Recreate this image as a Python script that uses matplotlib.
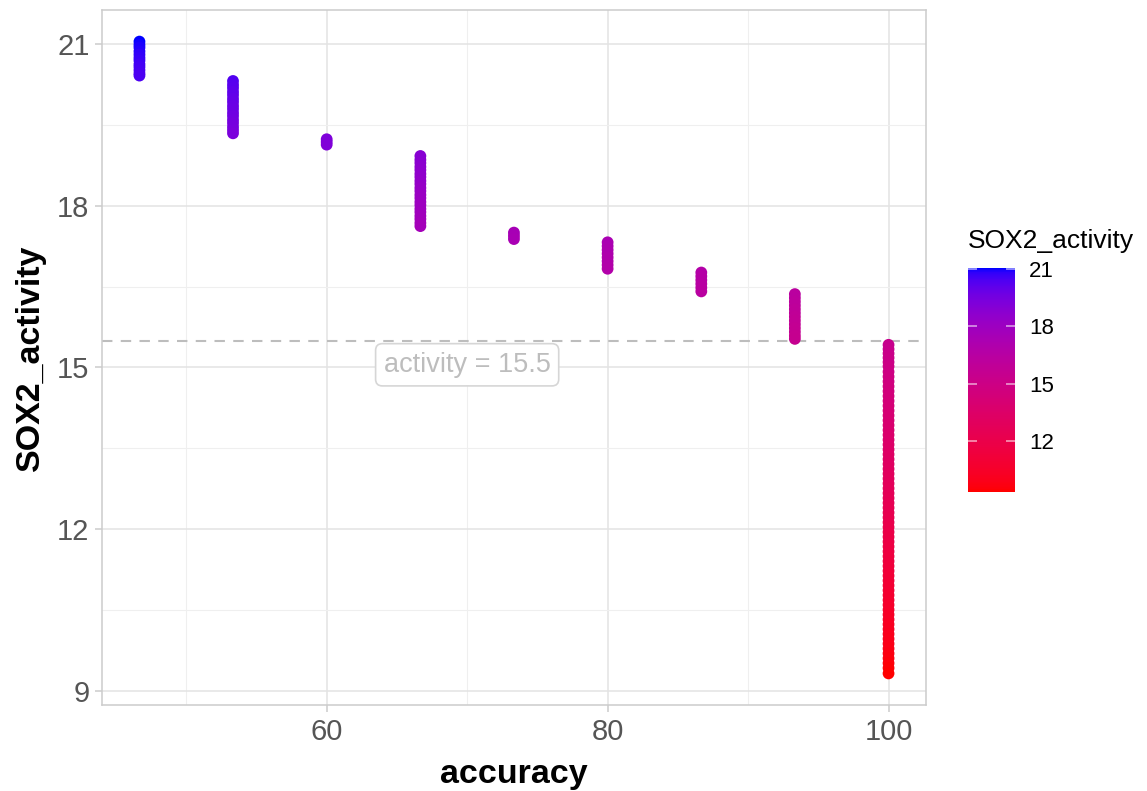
import numpy as np
import matplotlib
matplotlib.use('Agg')
import matplotlib.pyplot as plt
from matplotlib.colors import ListedColormap
from matplotlib.ticker import MultipleLocator

plt.rcParams['font.family'] = ['Liberation Sans', 'DejaVu Sans']

# SOX2 activity per accuracy level:
accuracy = [46.67, 53.33, 60.0, 66.67, 73.33, 80.0, 86.67, 93.33, 100.0]
activity = [
    [21.04, 20.98, 20.93, 20.86, 20.80, 20.74, 20.69, 20.62, 20.57, 20.51,
     20.45, 20.41],
    [20.31, 20.24, 20.18, 20.11, 20.05, 19.98, 19.92, 19.85, 19.79, 19.72,
     19.66, 19.59, 19.53, 19.46, 19.40, 19.34],
    [19.23, 19.18, 19.13],
    [18.92, 18.85, 18.79, 18.72, 18.66, 18.59, 18.53, 18.46, 18.40, 18.33,
     18.27, 18.20, 18.14, 18.07, 18.01, 17.94, 17.88, 17.81, 17.75, 17.68,
     17.62],
    [17.50, 17.44, 17.38],
    [17.32, 17.25, 17.18, 17.11, 17.04, 16.97, 16.90, 16.83],
    [16.76, 16.69, 16.62, 16.55, 16.48, 16.41],
    [16.36, 16.29, 16.22, 16.15, 16.08, 16.01, 15.94, 15.87, 15.80, 15.73,
     15.66, 15.59, 15.53],
    [15.42, 15.34, 15.26, 15.18, 15.10, 15.02, 14.92, 14.83, 14.74, 14.65,
     14.56, 14.47, 14.38, 14.29, 14.20, 14.11, 14.02, 13.93, 13.84, 13.75,
     13.66, 13.57, 13.48, 13.39, 13.30, 13.21, 13.12, 13.03, 12.94, 12.85,
     12.76, 12.67, 12.58, 12.49, 12.40, 12.31, 12.22, 12.13, 12.04, 11.95,
     11.86, 11.77, 11.68, 11.59, 11.50, 11.41, 11.32, 11.23, 11.14, 11.05,
     10.96, 10.87, 10.78, 10.69, 10.60, 10.51, 10.42, 10.33, 10.24, 10.15,
     10.06, 9.97, 9.88, 9.79, 9.70, 9.61, 9.52, 9.43, 9.33],
]
threshold = 15.5
label_text = 'activity = 15.5'
cbar_ticks = [12, 15, 18, 21]

xs = np.concatenate([[a] * len(v) for a, v in zip(accuracy, activity)])
ys = np.concatenate(activity)

# red -> blue gradient interpolated in CIELAB (like ggplot):
def srgb_to_lab(rgb):
    rgb = np.asarray(rgb, float)
    lin = np.where(rgb <= 0.04045, rgb / 12.92, ((rgb + 0.055) / 1.055)**2.4)
    m = np.array([[0.4124, 0.3576, 0.1805],
                  [0.2126, 0.7152, 0.0722],
                  [0.0193, 0.1192, 0.9505]])
    xyz = m @ lin / np.array([0.95047, 1.0, 1.08883])
    f = np.where(xyz > 0.008856, np.cbrt(xyz), 7.787 * xyz + 16 / 116)
    return np.array([116 * f[1] - 16, 500 * (f[0] - f[1]), 200 * (f[1] - f[2])])

def lab_to_srgb(lab):
    L, a, b = lab
    fy = (L + 16) / 116
    fx = fy + a / 500
    fz = fy - b / 200
    f = np.array([fx, fy, fz])
    xyz = np.where(f**3 > 0.008856, f**3, (f - 16 / 116) / 7.787)
    xyz = xyz * np.array([0.95047, 1.0, 1.08883])
    minv = np.array([[3.2406, -1.5372, -0.4986],
                     [-0.9689, 1.8758, 0.0415],
                     [0.0557, -0.2040, 1.0570]])
    lin = np.clip(minv @ xyz, 0, 1)
    rgb = np.where(lin <= 0.0031308, 12.92 * lin, 1.055 * lin**(1 / 2.4) - 0.055)
    return np.clip(rgb, 0, 1)

lab_lo = srgb_to_lab([1, 0, 0])
lab_hi = srgb_to_lab([0, 0, 1])
cmap = ListedColormap([lab_to_srgb(lab_lo + t * (lab_hi - lab_lo))
                       for t in np.linspace(0, 1, 256)])

fig = plt.figure(figsize=(11.47, 7.91), dpi=100)
ax = fig.add_axes([102 / 1147, 86 / 791, 824 / 1147, 695 / 791])

sc = ax.scatter(xs, ys, c=ys, cmap=cmap, vmin=ys.min(), vmax=ys.max(),
                s=72, linewidths=0, zorder=3)
ax.axhline(threshold, color='#BDBDBD', lw=1.5, ls=(0, (5, 4)), zorder=2)
ax.text(70, 15.05, label_text, ha='center', va='center', fontsize=19.5,
        color='#BDBDBD', zorder=4,
        bbox=dict(boxstyle='round,pad=0.3,rounding_size=0.25',
                  fc='white', ec='#D6D6D6', lw=1.2))

xr = max(accuracy) - min(accuracy)
ax.set_xlim(min(accuracy) - 0.05 * xr, max(accuracy) + 0.05 * xr)
yr = ys.max() - ys.min()
ax.set_ylim(ys.min() - 0.05 * yr, ys.max() + 0.05 * yr)
ax.xaxis.set_major_locator(MultipleLocator(20))
ax.xaxis.set_minor_locator(MultipleLocator(10))
ax.yaxis.set_major_locator(MultipleLocator(3))
ax.yaxis.set_minor_locator(MultipleLocator(1.5))
ax.grid(which='major', color='#E3E3E3', lw=1.1, zorder=0)
ax.grid(which='minor', color='#EFEFEF', lw=0.8, zorder=0)
ax.set_axisbelow(True)
for sp in ax.spines.values():
    sp.set_color('#CCCCCC')
    sp.set_linewidth(1.1)
ax.tick_params(which='major', length=5, width=1.1, color='#CCCCCC',
               labelsize=21, labelcolor='#555555', pad=4)
ax.tick_params(which='minor', length=0)
ax.set_xlabel('accuracy', fontsize=24.5, fontweight='bold', labelpad=10)
ax.set_ylabel('SOX2_activity', fontsize=24.5, fontweight='bold', labelpad=8)

# colour bar legend:
cax = fig.add_axes([968 / 1147, (791 - 492) / 791, 47 / 1147, 224 / 791])
cb = fig.colorbar(sc, cax=cax)
cb.outline.set_visible(False)
cb.set_ticks(cbar_ticks)
cax.tick_params(length=0, labelsize=16, pad=10)
cax.hlines(cbar_ticks, 0, 0.2, color='white', lw=1.2, alpha=0.6,
           transform=cax.get_yaxis_transform())
cax.hlines(cbar_ticks, 0.8, 1, color='white', lw=1.2, alpha=0.6,
           transform=cax.get_yaxis_transform())
fig.text(968 / 1147, (791 - 241) / 791, 'SOX2_activity', fontsize=19,
         ha='left', va='center')

fig.savefig('out.png', dpi=100)
